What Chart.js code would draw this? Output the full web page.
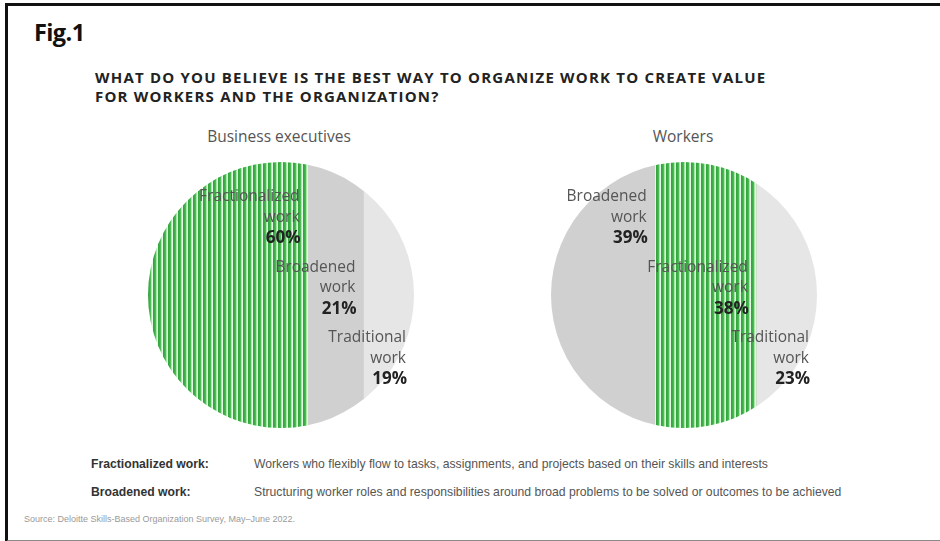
<!DOCTYPE html>
<html>
<head>
<meta charset="utf-8">
<script src="https://cdn.jsdelivr.net/npm/chart.js@4.4.0/dist/chart.umd.min.js"></script>
<style>
  html,body{margin:0;padding:0;background:#fff;}
  body{width:940px;height:541px;position:relative;overflow:hidden;font-family:"Open Sans",sans-serif;}
  #frame{position:absolute;left:5px;top:3px;width:940px;height:534px;border-top:3px solid #111;border-left:3px solid #111;border-bottom:2px solid #8a8a8a;box-sizing:content-box;}
  .abs{position:absolute;white-space:nowrap;}
  #fig{left:34px;top:16px;font-size:23.5px;font-weight:bold;color:#111;font-family:"Open Sans",sans-serif;letter-spacing:-0.6px;}
  .title{left:95px;font-size:15px;font-weight:bold;color:#222;letter-spacing:1.2px;}
  .sub{font-size:15.5px;color:#555;transform:translateX(-50%);}
  canvas{position:absolute;}
  .fn{font-family:"Liberation Sans Narrow","Liberation Sans",sans-serif;font-size:12.2px;line-height:16px;}
  .fnl{left:91px;color:#333;font-weight:bold;}
  .fnd{left:254px;color:#555;}
  #src{left:24px;top:514px;font-family:"Liberation Sans Narrow","Liberation Sans",sans-serif;font-size:9px;color:#9a9a9a;}
</style>
</head>
<body>
<div id="frame"></div>
<div class="abs" id="fig">Fig.1</div>
<div class="abs title" id="t1" style="top:67px;">WHAT DO YOU BELIEVE IS THE BEST WAY TO ORGANIZE WORK TO CREATE VALUE</div>
<div class="abs title" id="t2" style="top:86px;">FOR WORKERS AND THE ORGANIZATION?</div>
<div class="abs sub" style="left:279px;top:125px;">Business executives</div>
<div class="abs sub" style="left:683px;top:125px;">Workers</div>
<canvas id="c1" width="286" height="286" style="left:138px;top:152px;"></canvas>
<canvas id="c2" width="286" height="286" style="left:541px;top:152px;"></canvas>
<div class="abs fn fnl" style="top:456px;">Fractionalized work:</div>
<div class="abs fn fnd" style="top:456px;">Workers who flexibly flow to tasks, assignments, and projects based on their skills and interests</div>
<div class="abs fn fnl" style="top:484px;">Broadened work:</div>
<div class="abs fn fnd" style="top:484px;">Structuring worker roles and responsibilities around broad problems to be solved or outcomes to be achieved</div>
<div class="abs" id="src">Source: Deloitte Skills-Based Organization Survey, May–June 2022.</div>
<script>
// ---- data ----
const execCategories = ['Fractionalized work', 'Broadened work', 'Traditional work'];
const execValues = [60, 21, 19];
const workerCategories = ['Broadened work', 'Fractionalized work', 'Traditional work'];
const workerValues = [39, 38, 23];

// ---- styles ----
function makeStripes() {
  const c = document.createElement('canvas');
  c.width = 5; c.height = 1;
  const x = c.getContext('2d');
  const cols = ['#35a540', '#3dad47', '#4dbb55', '#a6e8a6', '#e4f9e4'];
  cols.forEach((col, i) => { x.fillStyle = col; x.fillRect(i, 0, 1, 1); });
  return x.createPattern(c, 'repeat');
}
const stripes = makeStripes();
const colorFor = {
  'Fractionalized work': stripes,
  'Broadened work': '#d0d0d0',
  'Traditional work': '#e6e6e6'
};

const circleClip = {
  id: 'circleClip',
  beforeDatasetsDraw(chart) {
    const { ctx, chartArea: a } = chart;
    ctx.save();
    ctx.beginPath();
    ctx.arc((a.left + a.right) / 2, (a.top + a.bottom) / 2, (a.right - a.left) / 2, 0, Math.PI * 2);
    ctx.clip();
  },
  afterDatasetsDraw(chart) { chart.ctx.restore(); }
};

const segLabels = {
  id: 'segLabels',
  afterDraw(chart) {
    const { ctx, chartArea: a } = chart;
    ctx.save();
    ctx.textAlign = 'right';
    ctx.textBaseline = 'middle';
    chart.data.datasets.forEach((ds, i) => {
      const bar = chart.getDatasetMeta(i).data[0];
      const right = bar.x - 8;
      const y0 = a.top + 35 + i * 70.5;
      const words = ds.label.split(' ');
      ctx.fillStyle = '#555';
      ctx.font = '15.5px "Open Sans", sans-serif';
      ctx.fillText(words[0], right, y0);
      ctx.fillText(words[1], right, y0 + 20.5);
      ctx.fillStyle = '#222';
      ctx.font = 'bold 17px "Open Sans", sans-serif';
      ctx.fillText(ds.data[0] + '%', right + 1, y0 + 41.5);
    });
    ctx.restore();
  }
};

function build(id, cats, vals) {
  new Chart(document.getElementById(id), {
    type: 'bar',
    data: {
      labels: [''],
      datasets: cats.map((c, i) => ({
        label: c,
        data: [vals[i]],
        backgroundColor: colorFor[c],
        borderWidth: 0,
        barPercentage: 1,
        categoryPercentage: 1
      }))
    },
    options: {
      indexAxis: 'y',
      responsive: false,
      animation: false,
      devicePixelRatio: 1,
      layout: { padding: 10 },
      scales: {
        x: { stacked: true, min: 0, max: 100, display: false },
        y: { stacked: true, display: false }
      },
      plugins: { legend: { display: false }, tooltip: { enabled: false } }
    },
    plugins: [circleClip, segLabels]
  });
}
build('c1', execCategories, execValues);
build('c2', workerCategories, workerValues);
</script>
</body>
</html>
